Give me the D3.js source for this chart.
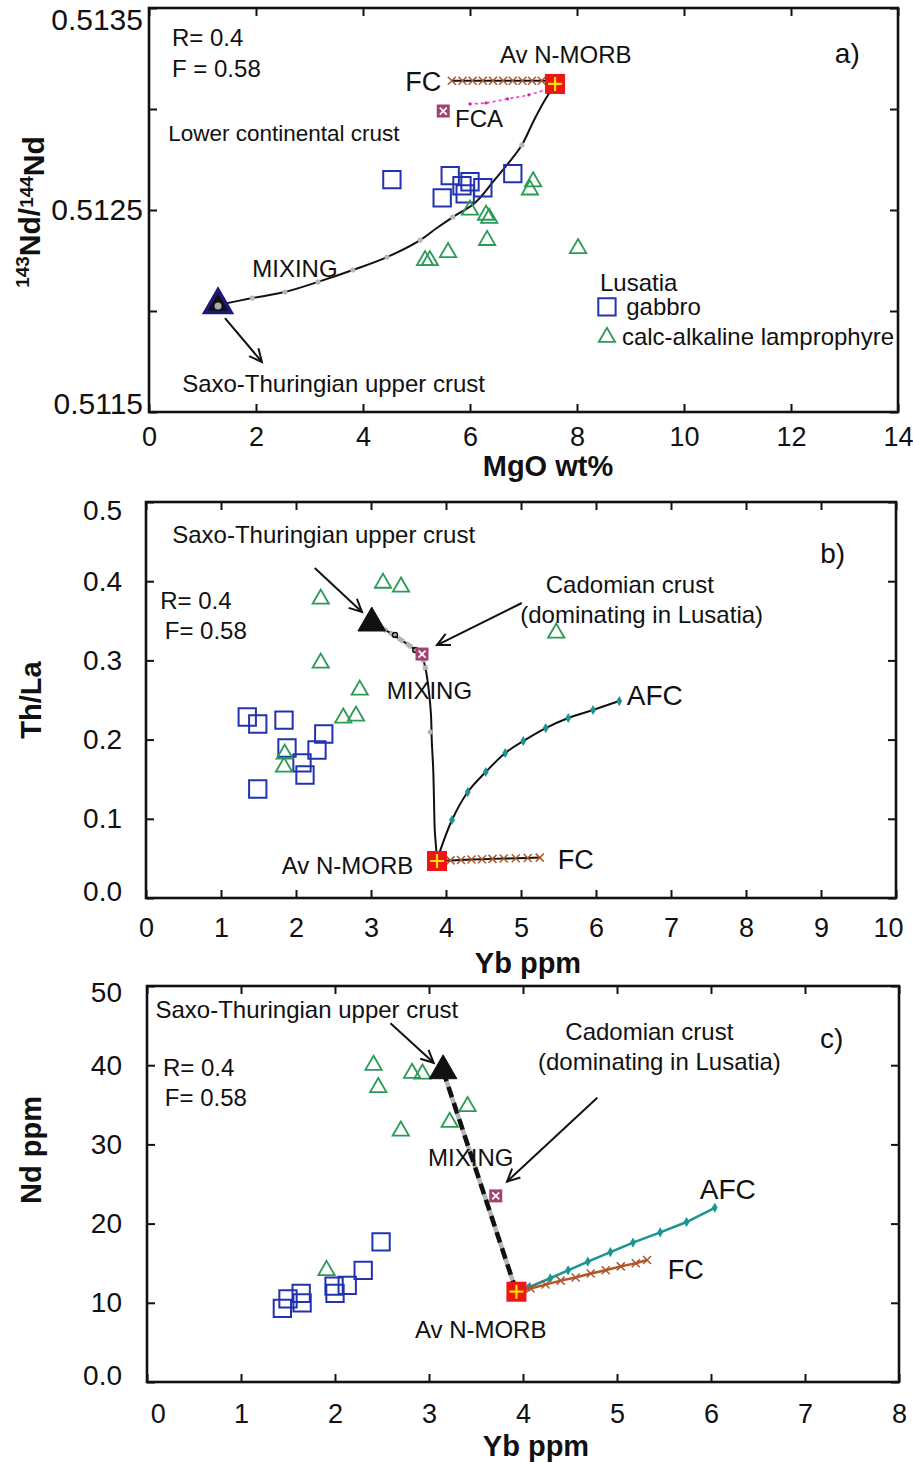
<!DOCTYPE html>
<html><head><meta charset="utf-8">
<script src="https://cdn.jsdelivr.net/npm/d3@7"></script>
<style>
body{margin:0;background:#fff;}
svg{display:block;font-family:"Liberation Sans",Arial,sans-serif;}
</style></head><body>
<svg id="chart" width="913" height="1463"></svg>
<script>
// ================= DATA =================
// ---- panel a : 143Nd/144Nd vs MgO ----
const aXTicks = [0,2,4,6,8,10,12,14];
const aYTicks = [0.5115,0.5120,0.5125,0.5130,0.5135];
const aYLabels = {"0.5115":"0.5115","0.5125":"0.5125","0.5135":"0.5135"};
const aGabbro = [[4.54,0.51265],[5.63,0.51267],[5.85,0.51262],[6.00,0.51264],[5.48,0.51256],[6.24,0.51261],[5.91,0.51258],[6.80,0.51268]];
const aLamp = [[7.18,0.51264],[7.12,0.51260],[6.00,0.51250],[6.30,0.512475],[6.36,0.51246],[6.32,0.51235],[5.59,0.51229],[5.16,0.51225],[5.25,0.51225],[8.02,0.51231]];
const aMixing = [[7.59,0.513124],[7.40,0.513044],[7.18,0.512936],[6.97,0.512822],[6.69,0.512723],[6.43,0.512639],[6.09,0.512535],[5.68,0.512465],[5.38,0.512411],[5.07,0.512351],[4.45,0.512267],[3.81,0.512203],[3.16,0.512144],[2.54,0.512094],[1.93,0.512064],[1.29,0.51203]];
const aMixDots = [[6.97,0.512822],[5.68,0.512465],[5.07,0.512351],[4.45,0.512267],[3.81,0.512203],[3.16,0.512144],[2.54,0.512094],[1.93,0.512064]];
const aFC = [[5.66,0.51314],[5.86,0.51314],[6.05,0.51314],[6.24,0.51314],[6.43,0.51314],[6.62,0.51314],[6.80,0.51314],[6.98,0.51314],[7.16,0.51314],[7.34,0.51314],[7.50,0.51314]];
const aFCA = [[7.46,0.51310],[7.10,0.51307],[6.70,0.51305],[6.30,0.51303],[6.00,0.513025]];
const aFCAEnd = [5.50,0.51299];
const aMORB = [7.59,0.513124];
const aSaxo = [1.29,0.51203];

// ---- panel b : Th/La vs Yb ----
const bXTicks = [0,1,2,3,4,5,6,7,8,9,10];
const bYTicks = [0,0.1,0.2,0.3,0.4,0.5];
const bGabbro = [[1.35,0.2285],[1.49,0.2197],[1.84,0.2247],[1.88,0.1894],[2.08,0.1705],[2.12,0.1553],[2.28,0.1869],[2.37,0.2071],[1.49,0.1376]];
const bLamp = [[2.33,0.3775],[3.16,0.3977],[3.40,0.3927],[2.33,0.2967],[2.85,0.2626],[2.63,0.2273],[2.80,0.2298],[1.85,0.1818],[1.84,0.1654],[5.47,0.3346]];
const bMixing = [[3.01,0.3472],[3.19,0.3384],[3.36,0.3283],[3.52,0.3182],[3.67,0.3068],[3.73,0.2879],[3.77,0.2626],[3.80,0.2311],[3.81,0.1995],[3.83,0.1616],[3.84,0.1237],[3.85,0.0859],[3.87,0.0606],[3.88,0.0467]];
const bMixUpper = [[3.01,0.3472],[3.19,0.3384],[3.36,0.3283],[3.52,0.3182],[3.67,0.3068],[3.73,0.2879]];
const bMixCircles = [[3.32,0.3321],[3.59,0.3131]];
const bMixDots = [[3.79,0.2096]];
const bFC = [[3.92,0.047],[4.06,0.0475],[4.20,0.048],[4.34,0.0485],[4.48,0.049],[4.62,0.0494],[4.77,0.0498],[4.93,0.0502],[5.09,0.0506],[5.25,0.051]];
const bAFC = [[3.88,0.048],[4.08,0.0985],[4.29,0.1338],[4.53,0.1591],[4.79,0.1831],[5.03,0.1982],[5.33,0.2146],[5.63,0.2273],[5.96,0.2374],[6.31,0.2487]];
const bMORB = [3.88,0.0467];
const bSaxo = [3.01,0.3472];
const bCadomian = [3.68,0.308];

// ---- panel c : Nd vs Yb ----
const cXTicks = [0,1,2,3,4,5,6,7,8];
const cYTicks = [0,10,20,30,40,50];
const cGabbro = [[2.49,17.7],[2.30,14.1],[2.13,12.2],[1.99,12.1],[2.00,11.2],[1.64,11.2],[1.65,10.0],[1.50,10.5],[1.44,9.3]];
const cLamp = [[2.41,40.0],[2.46,37.2],[2.82,39.0],[2.93,38.9],[3.41,34.8],[3.22,32.8],[2.70,31.7],[1.91,14.1]];
const cMixing = [[3.15,39.3],[3.93,11.4]];
const cFC = [[3.93,11.4],[4.08,11.8],[4.24,12.3],[4.40,12.8],[4.56,13.2],[4.72,13.7],[4.88,14.1],[5.04,14.6],[5.20,15.0],[5.32,15.4]];
const cAFC = [[3.93,11.6],[4.07,12.0],[4.29,13.1],[4.48,14.1],[4.69,15.2],[4.93,16.4],[5.17,17.6],[5.46,18.9],[5.74,20.2],[6.04,22.0]];
const cMORB = [3.93,11.4];
const cSaxo = [3.15,39.3];
const cCadomian = [3.71,23.5];

// ================= DRAWING =================
const svg = d3.select("#chart");
const C = {gab:"#2233b0", lamp:"#2a9a55", fc:"#b0562a", afc:"#1a9494", morb:"#ee1515", plus:"#ffe000", cad:"#a3416f", grey:"#b5b5b5"};

function makePanel(o){
  const x = d3.scaleLinear().domain(o.xd).range(o.xr);
  const y = d3.scaleLinear().domain(o.yd).range(o.yr);
  const g = svg.append("g");
  const [x0,x1] = o.xr, [y0,y1] = [o.yr[1], o.yr[0]];
  const bx = g.append("g").attr("transform",`translate(0,${y1})`)
    .call(d3.axisBottom(x).tickValues(o.xt).tickSizeInner(-8).tickSizeOuter(0).tickPadding(o.xpad).tickFormat(d3.format("d")));
  bx.selectAll("text").attr("font-size",o.xfs).attr("fill","#111").style("font-family","Liberation Sans, Arial, sans-serif");
  g.append("g").attr("transform",`translate(0,${y0})`)
    .call(d3.axisTop(x).tickValues(o.xt).tickSizeInner(-8).tickSizeOuter(0).tickFormat(""));
  const ly = g.append("g").attr("transform",`translate(${x0},0)`)
    .call(d3.axisLeft(y).tickValues(o.yt).tickSizeInner(-8).tickSizeOuter(0).tickPadding(o.ypad).tickFormat(o.yf));
  ly.selectAll("text").attr("font-size",o.yfs).attr("fill","#111").style("font-family","Liberation Sans, Arial, sans-serif");
  g.append("g").attr("transform",`translate(${x1},0)`)
    .call(d3.axisRight(y).tickValues(o.yt).tickSizeInner(-8).tickSizeOuter(0).tickFormat(""));
  g.selectAll(".domain").remove();
  g.selectAll(".tick line").attr("stroke","#111").attr("stroke-width",2);
  g.append("rect").attr("x",x0).attr("y",y0).attr("width",x1-x0).attr("height",y1-y0)
    .attr("fill","none").attr("stroke","#111").attr("stroke-width",2.6);
  return {x,y,g,ly,bx};
}

function text(P,s,pos,fs,opt={}){
  const t = P.g.append("text").attr("x",P.x(pos[0])).attr("y",P.y(pos[1]))
    .attr("font-size",fs).attr("fill","#111").text(s);
  if(opt.bold) t.attr("font-weight","bold");
  if(opt.anchor) t.attr("text-anchor",opt.anchor);
  return t;
}
function arrow(P,a,b){
  const x1=P.x(a[0]),y1=P.y(a[1]),x2=P.x(b[0]),y2=P.y(b[1]);
  const ang=Math.atan2(y2-y1,x2-x1), L=14, w=0.45;
  P.g.append("line").attr("x1",x1).attr("y1",y1).attr("x2",x2).attr("y2",y2).attr("stroke","#111").attr("stroke-width",2);
  P.g.append("path").attr("d",`M${x2-L*Math.cos(ang-w)},${y2-L*Math.sin(ang-w)}L${x2},${y2}L${x2-L*Math.cos(ang+w)},${y2-L*Math.sin(ang+w)}`)
    .attr("fill","none").attr("stroke","#111").attr("stroke-width",2);
}
const sq = d3.symbol().type(d3.symbolSquare).size(300);
const tri = d3.symbol().type(d3.symbolTriangle).size(115);
function squares(P,data){
  P.g.selectAll(null).data(data).join("path").attr("d",sq)
    .attr("transform",d=>`translate(${P.x(d[0])},${P.y(d[1])})`)
    .attr("fill","none").attr("stroke",C.gab).attr("stroke-width",2);
}
function triangles(P,data){
  P.g.selectAll(null).data(data).join("path").attr("d",tri)
    .attr("transform",d=>`translate(${P.x(d[0])},${P.y(d[1])})`)
    .attr("fill","none").attr("stroke",C.lamp).attr("stroke-width",1.8);
}
function morb(P,d){
  const cx=P.x(d[0]),cy=P.y(d[1]);
  P.g.append("rect").attr("x",cx-10).attr("y",cy-10).attr("width",20).attr("height",20).attr("fill",C.morb);
  P.g.append("path").attr("d",`M${cx-7},${cy}H${cx+7}M${cx},${cy-7}V${cy+7}`).attr("stroke",C.plus).attr("stroke-width",2.2);
}
function cad(P,d){
  const cx=P.x(d[0]),cy=P.y(d[1]);
  P.g.append("rect").attr("x",cx-6.5).attr("y",cy-6.5).attr("width",13).attr("height",13).attr("fill",C.cad);
  P.g.append("path").attr("d",`M${cx-3.5},${cy-3.5}L${cx+3.5},${cy+3.5}M${cx+3.5},${cy-3.5}L${cx-3.5},${cy+3.5}`).attr("stroke","#fff").attr("stroke-width",1.8);
}
function xmarks(P,data,color){
  P.g.selectAll(null).data(data).join("path")
    .attr("d",d=>{const cx=P.x(d[0]),cy=P.y(d[1]);return `M${cx-4},${cy-4}L${cx+4},${cy+4}M${cx+4},${cy-4}L${cx-4},${cy+4}`;})
    .attr("stroke",color).attr("stroke-width",1.5);
}
function diamonds(P,data,color){
  P.g.selectAll(null).data(data).join("path").attr("d",d3.symbol().type(d3.symbolDiamond).size(30))
    .attr("transform",d=>`translate(${P.x(d[0])},${P.y(d[1])})`).attr("fill",color);
}
function bigTri(P,d,fill,stroke,sw,size){
  P.g.append("path").attr("d",d3.symbol().type(d3.symbolTriangle).size(size))
    .attr("transform",`translate(${P.x(d[0])},${P.y(d[1])})`)
    .attr("fill",fill).attr("stroke",stroke).attr("stroke-width",sw).attr("stroke-linejoin","miter");
}
const lineOf = P => d3.line().x(d=>P.x(d[0])).y(d=>P.y(d[1]));
const curveOf = P => d3.line().x(d=>P.x(d[0])).y(d=>P.y(d[1])).curve(d3.curveCatmullRom.alpha(0.5));

// ---------- Panel a ----------
const A = makePanel({xd:[0,14],xr:[149,898],yd:[0.5115,0.5135],yr:[412,8],xt:aXTicks,yt:aYTicks,
  xpad:15,ypad:6,xfs:27,yfs:30,yf:d=>aYLabels[d.toFixed(4)]||""});
A.ly.selectAll("text").attr("dy",(d,i)=> d===0.5135?"0.7em": d===0.5115?"0.05em":"0.32em");
A.g.append("path").datum(aMixing).attr("d",curveOf(A)).attr("fill","none").attr("stroke","#111").attr("stroke-width",2);
A.g.selectAll(null).data(aMixDots).join("circle").attr("cx",d=>A.x(d[0])).attr("cy",d=>A.y(d[1])).attr("r",2.6).attr("fill",C.grey);
A.g.append("path").datum(aFC).attr("d",lineOf(A)).attr("stroke","#111").attr("stroke-width",2).attr("fill","none");
xmarks(A,aFC,C.fc);
A.g.append("path").datum(aFCA).attr("d",curveOf(A)).attr("stroke","#ee44cc").attr("stroke-width",1.6).attr("stroke-dasharray","3,3").attr("fill","none");
A.g.selectAll(null).data(aFCA).join("circle").attr("cx",d=>A.x(d[0])).attr("cy",d=>A.y(d[1])).attr("r",1.6).attr("fill","#cc22aa");
cad(A,aFCAEnd);
squares(A,aGabbro);
triangles(A,aLamp);
bigTri(A,aSaxo,"#111","#1a1a7a",3.5,300);
A.g.append("circle").attr("cx",A.x(aSaxo[0])).attr("cy",A.y(aSaxo[1])+1).attr("r",3.5).attr("fill","#aaa");
morb(A,aMORB);
arrow(A,[1.42,0.511965],[2.11,0.511748]);
text(A,"R= 0.4",[0.43,0.51331],24);
text(A,"F = 0.58",[0.43,0.51316],24);
text(A,"a)",[12.82,0.51323],28);
text(A,"Av N-MORB",[6.56,0.51323],24);
text(A,"FC",[4.79,0.51309],27);
text(A,"FCA",[5.72,0.51291],24);
text(A,"Lower continental crust",[0.36,0.51284],22.5);
text(A,"MIXING",[1.93,0.51217],24);
text(A,"Saxo-Thuringian upper crust",[0.62,0.51160],24);
text(A,"Lusatia",[8.43,0.51210],24);
text(A,"gabbro",[8.92,0.51198],24);
text(A,"calc-alkaline lamprophyre",[8.84,0.51183],24);
squares(A,[[8.56,0.51202]]);
triangles(A,[[8.56,0.51187]]);
svg.append("text").attr("transform","translate(39,212) rotate(-90)").attr("text-anchor","middle")
  .attr("font-weight","bold").attr("font-size",30).attr("fill","#111")
  .call(t=>{t.append("tspan").attr("font-size",19).attr("dy","-0.55em").text("143");
           t.append("tspan").attr("dy","0.38em").text("Nd/");
           t.append("tspan").attr("font-size",19).attr("dy","-0.38em").text("144");
           t.append("tspan").attr("dy","0.38em").text("Nd");});
svg.append("text").attr("x",548).attr("y",476).attr("text-anchor","middle").attr("font-weight","bold").attr("font-size",29).attr("fill","#111").text("MgO wt%");

// ---------- Panel b ----------
const B = makePanel({xd:[0,10],xr:[146,896],yd:[0,0.5],yr:[898,502],xt:bXTicks,yt:bYTicks,
  xpad:20,ypad:24,xfs:27,yfs:28,yf:d3.format(".1f")});
B.ly.selectAll("text").attr("dy",d=> d===0.5?"0.62em": d===0?"0.1em":"0.32em");
B.bx.selectAll("text").filter(d=>d===10).attr("dx","-0.3em");
B.g.append("path").datum(bMixing).attr("d",curveOf(B)).attr("fill","none").attr("stroke","#111").attr("stroke-width",2);
B.g.append("path").datum(bMixUpper).attr("d",curveOf(B)).attr("fill","none").attr("stroke",C.grey).attr("stroke-width",5).attr("stroke-dasharray","7,3");
B.g.selectAll(null).data(bMixCircles).join("circle").attr("cx",d=>B.x(d[0])).attr("cy",d=>B.y(d[1])).attr("r",2.5).attr("fill","none").attr("stroke","#111").attr("stroke-width",1.5);
B.g.selectAll(null).data(bMixDots).join("circle").attr("cx",d=>B.x(d[0])).attr("cy",d=>B.y(d[1])).attr("r",2.6).attr("fill",C.grey);
B.g.append("path").datum(bFC).attr("d",lineOf(B)).attr("stroke","#111").attr("stroke-width",2).attr("fill","none");
xmarks(B,bFC,C.fc);
B.g.append("path").datum(bAFC).attr("d",curveOf(B)).attr("stroke","#111").attr("stroke-width",2).attr("fill","none");
diamonds(B,bAFC.slice(1),C.afc);
squares(B,bGabbro);
triangles(B,bLamp);
bigTri(B,bSaxo,"#111","#111",1,330);
cad(B,bCadomian);
morb(B,bMORB);
arrow(B,[2.25,0.4167],[2.88,0.3611]);
arrow(B,[5.01,0.3725],[3.88,0.3194]);
text(B,"Saxo-Thuringian upper crust",[0.35,0.4482],24);
text(B,"R= 0.4",[0.19,0.3649],24);
text(B,"F= 0.58",[0.25,0.3270],24);
text(B,"b)",[8.99,0.4230],28);
text(B,"Cadomian crust",[5.33,0.3851],24);
text(B,"(dominating in Lusatia)",[4.99,0.3472],24);
text(B,"MIXING",[3.21,0.2513],24);
text(B,"AFC",[6.41,0.2437],28);
text(B,"FC",[5.49,0.0366],27);
text(B,"Av N-MORB",[1.81,0.0303],24);
svg.append("text").attr("transform","translate(41,700) rotate(-90)").attr("text-anchor","middle").attr("font-weight","bold").attr("font-size",29).attr("fill","#111").text("Th/La");
svg.append("text").attr("x",528).attr("y",973).attr("text-anchor","middle").attr("font-weight","bold").attr("font-size",29).attr("fill","#111").text("Yb ppm");

// ---------- Panel c ----------
const Cp = makePanel({xd:[0,8],xr:[147,899],yd:[0,50],yr:[1382,986],xt:cXTicks,yt:cYTicks,
  xpad:22,ypad:25,xfs:27,yfs:28,yf:d=> d===0?"0.0":d3.format("d")(d)});
Cp.ly.selectAll("text").attr("dy",d=> d===50?"0.55em": d===0?"0.1em":"0.32em");
Cp.bx.selectAll("text").filter(d=>d===0).attr("dx","0.4em");
Cp.g.append("path").datum(cMixing).attr("d",lineOf(Cp)).attr("stroke",C.grey).attr("stroke-width",4.5).attr("fill","none");
Cp.g.append("path").datum(cMixing).attr("d",lineOf(Cp)).attr("stroke","#111").attr("stroke-width",4.5).attr("stroke-dasharray","11,6").attr("fill","none");
Cp.g.append("path").datum(cAFC).attr("d",lineOf(Cp)).attr("stroke",C.afc).attr("stroke-width",2.5).attr("fill","none");
diamonds(Cp,cAFC.slice(1),C.afc);
Cp.g.append("path").datum(cFC).attr("d",lineOf(Cp)).attr("stroke",C.fc).attr("stroke-width",2.5).attr("fill","none");
xmarks(Cp,cFC.slice(1),C.fc);
squares(Cp,cGabbro);
triangles(Cp,cLamp);
bigTri(Cp,cSaxo,"#111","#111",1,330);
cad(Cp,cCadomian);
morb(Cp,cMORB);
arrow(Cp,[2.59,45.3],[3.05,40.3]);
arrow(Cp,[4.79,35.9],[3.83,25.3]);
text(Cp,"Saxo-Thuringian upper crust",[0.09,46.0],24);
text(Cp,"R= 0.4",[0.17,38.6],24);
text(Cp,"F= 0.58",[0.19,34.8],24);
text(Cp,"c)",[7.16,42.2],28);
text(Cp,"Cadomian crust",[4.45,43.2],24);
text(Cp,"(dominating in Lusatia)",[4.16,39.4],24);
text(Cp,"MIXING",[2.99,27.3],24);
text(Cp,"AFC",[5.88,23.1],28);
text(Cp,"FC",[5.54,13.0],27);
text(Cp,"Av N-MORB",[2.85,5.6],24);
svg.append("text").attr("transform","translate(41,1150) rotate(-90)").attr("text-anchor","middle").attr("font-weight","bold").attr("font-size",29).attr("fill","#111").text("Nd ppm");
svg.append("text").attr("x",536).attr("y",1456).attr("text-anchor","middle").attr("font-weight","bold").attr("font-size",29).attr("fill","#111").text("Yb ppm");
</script>
</body></html>
